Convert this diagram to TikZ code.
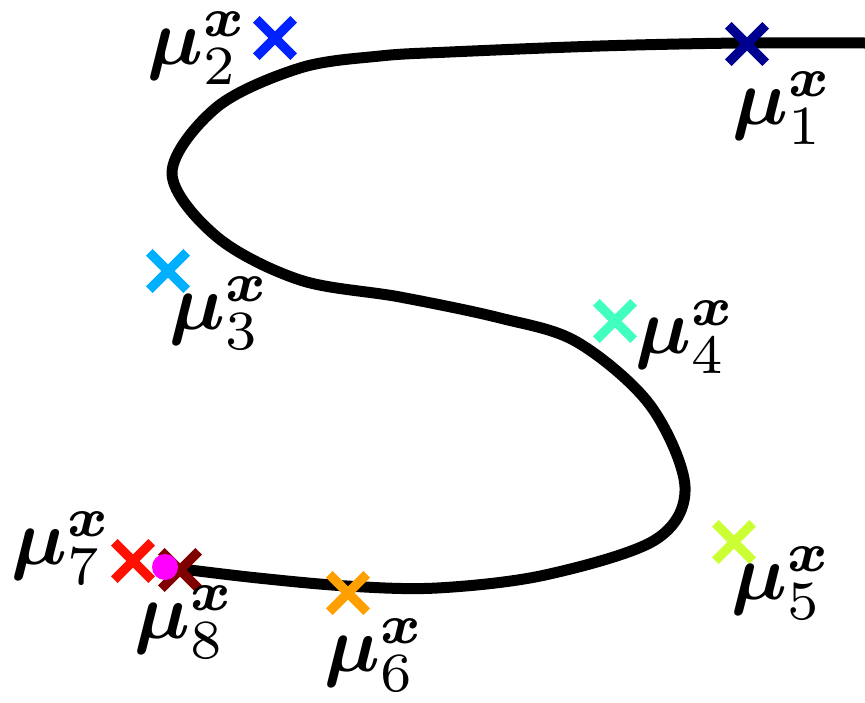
\documentclass[tikz,border=0pt]{standalone}
\usepackage{amsmath}
\usepackage{amsfonts}
\usepackage{amssymb}
\usepackage{tikz}
\usetikzlibrary{shapes.misc}
\definecolor{jetA}{RGB}{0,0,143}
\definecolor{jetB}{RGB}{0,34,255}
\definecolor{jetC}{RGB}{0,176,255}
\definecolor{jetD}{RGB}{64,255,191}
\definecolor{jetE}{RGB}{204,255,51}
\definecolor{jetF}{RGB}{255,160,0}
\definecolor{jetG}{RGB}{255,16,0}
\definecolor{jetH}{RGB}{128,0,0}
\definecolor{ptcol}{RGB}{255,0,255}
\begin{document}
\begin{tikzpicture}[x=0.5pt,y=-0.5pt,every node/.style={inner sep=0pt},
		mean/.style={cross out,draw=#1,line width=4.7pt,minimum size=14pt},
		lbl/.style={scale=3.95}]
			\useasboundingbox (0,0) rectangle (865,702);
			% the curve
			\draw[line width=5.5pt,line join=round] plot[smooth,tension=0.55] coordinates {
				(865,43) (740,43) (600,46) (450,52) (380,56) (300,68) (217,107) (172,173)
				(217,237) (300,280) (400,297) (500,318) (577,342) (650,405) (685,487)
				(655,540) (545,575) (437,588) (347,586) (258,578) (182,569)};
			% the means
			\node[mean=jetA] (m1) at (747,44) {};
			\node[mean=jetB] (m2) at (275,38) {};
			\node[mean=jetC] (m3) at (168,271) {};
			\node[mean=jetD] (m4) at (615,321) {};
			\node[mean=jetE] (m5) at (734,542) {};
			\node[mean=jetF] (m6) at (348,593) {};
			\node[mean=jetG] (m7) at (133,561) {};
			\node[mean=jetH] (m8) at (180,570) {};
			\node[circle,fill=ptcol,minimum size=13pt] (pt) at (165,567) {};
			% labels
			\node[lbl] (l1) at (783,108) {$\boldsymbol{\mu}_1^{\boldsymbol{x}}$};
			\node[lbl] (l2) at (198,48) {$\boldsymbol{\mu}_2^{\boldsymbol{x}}$};
			\node[lbl] (l3) at (220,313) {$\boldsymbol{\mu}_3^{\boldsymbol{x}}$};
			\node[lbl] (l4) at (686,337) {$\boldsymbol{\mu}_4^{\boldsymbol{x}}$};
			\node[lbl] (l5) at (782,583) {$\boldsymbol{\mu}_5^{\boldsymbol{x}}$};
			\node[lbl] (l6) at (375,655) {$\boldsymbol{\mu}_6^{\boldsymbol{x}}$};
			\node[lbl] (l7) at (62,548) {$\boldsymbol{\mu}_7^{\boldsymbol{x}}$};
			\node[lbl] (l8) at (185,622) {$\boldsymbol{\mu}_8^{\boldsymbol{x}}$};
		\end{tikzpicture}
\end{document}
